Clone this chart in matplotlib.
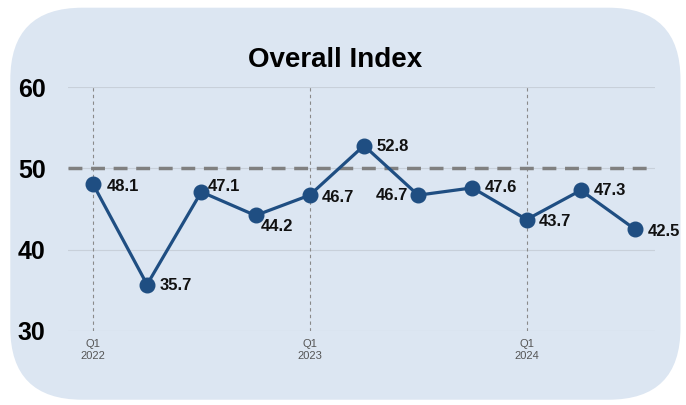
"""Overall Index 季度折线图，复刻参考图。"""

import matplotlib.pyplot as plt
import numpy as np
from matplotlib.patches import FancyBboxPatch

plt.rcParams["font.family"] = ["Liberation Sans", "DejaVu Sans"]

# 数据
quarters = ["Q1 2022", "Q2 2022", "Q3 2022", "Q4 2022",
            "Q1 2023", "Q2 2023", "Q3 2023", "Q4 2023",
            "Q1 2024", "Q2 2024", "Q3 2024"]
values = [48.1, 35.7, 47.1, 44.2, 46.7, 52.8, 46.7, 47.6, 43.7, 47.3, 42.5]
tick_labels = ["Q1\n2022", "", "", "", "Q1\n2023", "", "", "", "Q1\n2024", "", ""]
threshold = 50
y_ticks = [30, 40, 50, 60]

# 数据标签偏移（points），按点顺序
label_offsets = [(10, -2), (9, -1), (5, 4), (4, -8), (9, -1.5), (9, -1),
                 (-7, 0), (9, 0), (9, -1.5), (9, 0), (9, -1.5)]

LINE_COLOR = "#1f4e82"
BG_COLOR = "#dce6f2"

fig = plt.figure(figsize=(6.86, 4.05), dpi=100)
fig.patch.set_facecolor("white")

# 圆角背景
bg = FancyBboxPatch((0.015, 0.013), 0.977, 0.968,
                    boxstyle="round,pad=0,rounding_size=0.105",
                    transform=fig.transFigure, facecolor=BG_COLOR,
                    edgecolor="none", mutation_aspect=686 / 405, zorder=0)
fig.patches.append(bg)

ax = fig.add_axes([0.099, 0.183, 0.856, 0.602])
ax.set_zorder(2)
ax.set_facecolor("none")

x = np.arange(len(values))
ax.set_xlim(-0.46, 10.37)
ax.set_ylim(30, 60)

# 网格
for yt in y_ticks:
    ax.axhline(yt, color="#c8d0da", lw=0.8, zorder=1)
for i, lab in enumerate(tick_labels):
    if lab:
        ax.axvline(i, color="#8a8a8a", lw=0.8, ls=(0, (3, 3)), zorder=1)

ax.axhline(threshold, xmax=0.99, color="#808080", lw=2.5, ls=(0, (4, 2.5)), zorder=2)

ax.plot(x, values, "-o", color=LINE_COLOR, lw=2.3, markersize=10.5, zorder=3)

for i, (v, off) in enumerate(zip(values, label_offsets)):
    ha = "right" if off[0] < 0 else "left"
    ax.annotate(f"{v:.1f}", (i, v), xytext=off, textcoords="offset points",
                ha=ha, va="center", fontsize=12, fontweight="bold",
                color="#111111", zorder=4)

ax.set_xticks(x)
ax.set_xticklabels(tick_labels, fontsize=8, color="#555555", linespacing=1.25)
ax.set_yticks(y_ticks)
ax.set_yticklabels([str(t) for t in y_ticks], fontsize=18, fontweight="bold")
ax.tick_params(axis="x", length=0, pad=6)
ax.tick_params(axis="y", length=0, pad=16)
for s in ax.spines.values():
    s.set_visible(False)

fig.text(0.489, 0.853, "Overall Index", ha="center", va="center",
         fontsize=20, fontweight="bold")

fig.savefig("out.png", dpi=100)
